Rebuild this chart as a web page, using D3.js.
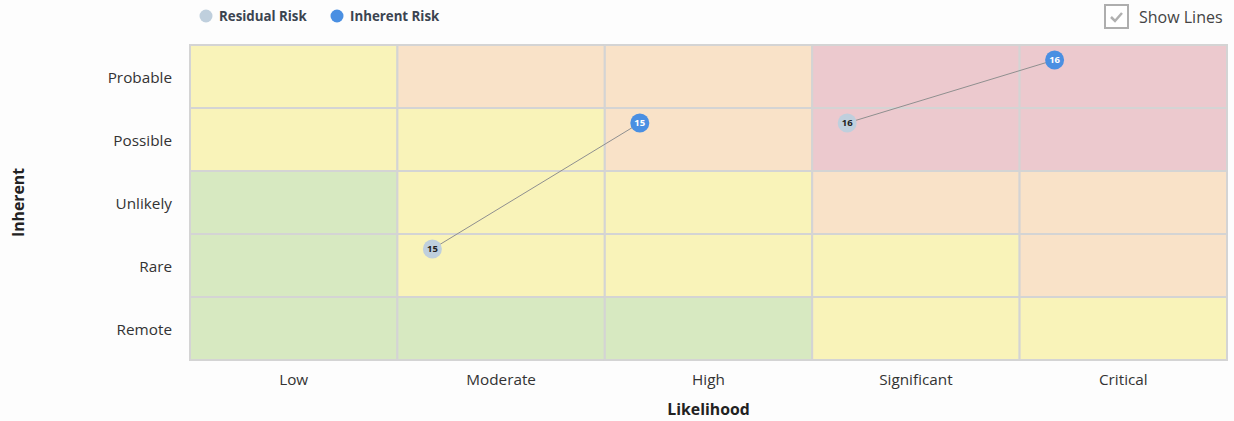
<!DOCTYPE html>
<html>
<head>
<meta charset="utf-8">
<script src="https://cdn.jsdelivr.net/npm/d3@7"></script>
<style>
  body { margin: 0; background: #fdfdfd; }
  svg text { font-family: 'Open Sans', Lato, sans-serif; }
</style>
</head>
<body>
<svg id="chart" width="1234" height="421"></svg>
<script>
// heat map data
const likelihood = ['Low', 'Moderate', 'High', 'Significant', 'Critical']
const inherent = ['Probable', 'Possible', 'Unlikely', 'Rare', 'Remote']
// zone per row (top to bottom), per column
const zones = [
  ['low', 'med', 'med', 'high', 'high'],
  ['low', 'low', 'med', 'high', 'high'],
  ['min', 'low', 'low', 'med', 'med'],
  ['min', 'low', 'low', 'low', 'med'],
  ['min', 'min', 'min', 'low', 'low']
]
const residualRisks = [
  {id: 15, x: 'Moderate', y: 'Rare'},
  {id: 16, x: 'Significant', y: 'Possible'}
]
const inherentRisks = [
  {id: 15, x: 'High', y: 'Possible'},
  {id: 16, x: 'Critical', y: 'Probable'}
]

const zoneColor = {min: '#d7e9c1', low: '#f9f3b9', med: '#f9e2c8', high: '#ecc9ce'}
const m = {top: 45, right: 7, bottom: 61, left: 190}
const W = 1234, H = 421
const w = W - m.left - m.right
const h = H - m.top - m.bottom

const svg = d3.select('#chart')
const g = svg.append('g').attr('transform', 'translate(' + m.left + ',' + m.top + ')')

const x = d3.scaleBand().domain(likelihood).range([0, w])
const y = d3.scaleBand().domain(inherent).range([0, h])

// cells
const cells = []
inherent.forEach((r, i) => likelihood.forEach((c, j) => cells.push({r: r, c: c, z: zones[i][j]})))
g.selectAll('rect.cell')
  .data(cells)
  .enter().append('rect')
  .attr('class', 'cell')
  .attr('x', d => x(d.c))
  .attr('y', d => y(d.r))
  .attr('width', x.bandwidth())
  .attr('height', y.bandwidth())
  .style('fill', d => zoneColor[d.z])
  .style('stroke', '#d4d4d4')
  .style('stroke-width', 2)

// axes
const xAxis = g.append('g').attr('transform', 'translate(0,' + h + ')')
  .call(d3.axisBottom(x).tickSize(0).tickPadding(14))
const yAxis = g.append('g').attr('transform', 'translate(0,1.5)')
  .call(d3.axisLeft(y).tickSize(0).tickPadding(18))
;[xAxis, yAxis].forEach(a => {
  a.select('.domain').remove()
  a.selectAll('text')
    .style('font-family', "'Open Sans', sans-serif")
    .style('font-size', '15.3px')
    .style('fill', '#333')
})

svg.append('text')
  .attr('x', m.left + w / 2)
  .attr('y', 415)
  .attr('text-anchor', 'middle')
  .style('font-size', '15.8px')
  .style('font-weight', 'bold')
  .style('fill', '#222')
  .text('Likelihood')

svg.append('text')
  .attr('transform', 'translate(24,' + (m.top + h / 2) + ') rotate(-90)')
  .attr('text-anchor', 'middle')
  .style('font-size', '15.8px')
  .style('font-weight', 'bold')
  .style('fill', '#222')
  .text('Inherent')

// point offset inside a cell
const px = d => x(d.x) + 35
const py = d => y(d.y) + 15

// lines from residual to inherent
const links = residualRisks.map(r => ({a: r, b: inherentRisks.find(i => i.id === r.id)}))
g.selectAll('line.link')
  .data(links)
  .enter().append('line')
  .attr('x1', d => px(d.a)).attr('y1', d => py(d.a))
  .attr('x2', d => px(d.b)).attr('y2', d => py(d.b))
  .style('stroke', '#8f8f8f')
  .style('stroke-width', 1)

function drawPoints(data, fill, txt) {
  const p = g.selectAll(null)
    .data(data)
    .enter().append('g')
    .attr('transform', d => 'translate(' + px(d) + ',' + py(d) + ')')
  p.append('circle').attr('r', 9.5).style('fill', fill)
  p.append('text')
    .attr('text-anchor', 'middle')
    .attr('dy', '0.35em')
    .style('font-size', '9.5px')
    .style('font-weight', 'bold')
    .style('fill', txt)
    .text(d => d.id)
}
drawPoints(residualRisks, '#bfcfdd', '#222')
drawPoints(inherentRisks, '#4a8fe2', '#fff')

// legend
const legend = svg.append('g')
const items = [{t: 'Residual Risk', c: '#bfcfdd', x: 206}, {t: 'Inherent Risk', c: '#4a8fe2', x: 337}]
const li = legend.selectAll('g').data(items).enter().append('g')
  .attr('transform', d => 'translate(' + d.x + ',16)')
li.append('circle').attr('r', 6.5).style('fill', d => d.c)
li.append('text')
  .attr('x', 13).attr('dy', '0.35em')
  .style('font-size', '13.3px')
  .style('font-weight', 'bold')
  .style('fill', '#3b4450')
  .text(d => d.t)

// show lines checkbox
const cb = svg.append('g').attr('transform', 'translate(1105,5)')
cb.append('rect').attr('width', 23).attr('height', 23)
  .style('fill', '#fff').style('stroke', '#aeaeae').style('stroke-width', 2)
cb.append('path').attr('d', 'M6,12 L10,16 L17,8')
  .style('fill', 'none').style('stroke', '#b0b0b0').style('stroke-width', 2.5)
cb.append('text').attr('x', 34).attr('y', 12).attr('dy', '0.35em')
  .style('font-size', '16px').style('fill', '#444')
  .text('Show Lines')
</script>
</body>
</html>
